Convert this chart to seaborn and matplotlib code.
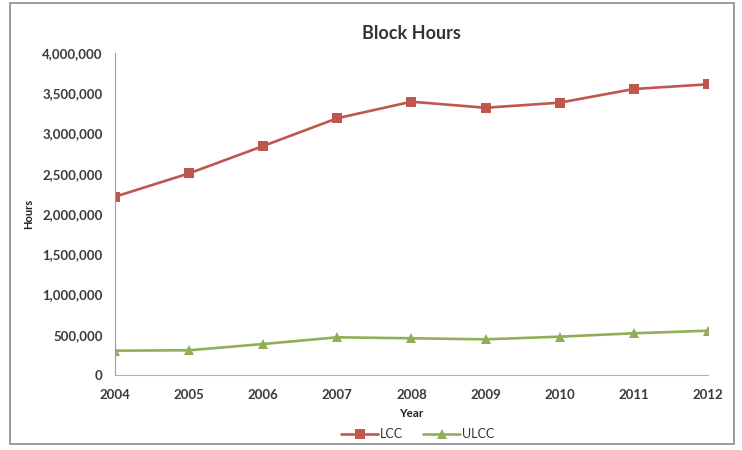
import pandas as pd
import matplotlib.pyplot as plt
import seaborn as sns
from matplotlib.patches import Rectangle
from matplotlib.ticker import FuncFormatter

years = [2004, 2005, 2006, 2007, 2008, 2009, 2010, 2011, 2012]
lcc = [2215000, 2505000, 2845000, 3190000, 3395000, 3320000, 3383000, 3553000, 3611000]
ulcc = [302000, 307000, 385000, 468000, 456000, 443000, 476000, 518000, 550000]

df = pd.DataFrame({'Year': years * 2,
                   'Hours': lcc + ulcc,
                   'Carrier': ['LCC'] * len(years) + ['ULCC'] * len(years)})

sns.set_style('white')
plt.rcParams['font.family'] = ['Lato', 'DejaVu Sans']

fig = plt.figure(figsize=(7.42, 4.5), dpi=100)
ax = fig.add_axes([0.155, 0.1667, 0.799, 0.7155])

sns.lineplot(data=df, x='Year', y='Hours', hue='Carrier', style='Carrier',
             palette={'LCC': '#C0574F', 'ULCC': '#8FAE55'},
             markers={'LCC': 's', 'ULCC': '^'}, dashes=False,
             markersize=7.5, linewidth=1.9, markeredgewidth=0, ax=ax)

ax.set_xlim(2004, 2012)
ax.set_ylim(0, 4000000)
ax.set_xticks(years)
ax.set_yticks(range(0, 4000001, 500000))
ax.yaxis.set_major_formatter(FuncFormatter(lambda v, p: f'{int(v):,}'))
ax.tick_params(length=0, labelsize=9.5, labelcolor='#3a3a3a')
ax.tick_params(axis='y', pad=9)
ax.tick_params(axis='x', pad=10)
for lbl in ax.get_xticklabels() + ax.get_yticklabels():
    lbl.set_fontweight('bold')

for side in ['top', 'right']:
    ax.spines[side].set_visible(False)
ax.spines['left'].set_color('#9a9aa8')
ax.spines['bottom'].set_color('#b0b0b8')

ax.set_title('Block Hours', fontsize=13, fontweight='bold', color='#333333', pad=10)
ax.set_xlabel('Year', fontsize=8.5, fontweight='bold', color='#222222', labelpad=5)
ax.set_ylabel('Hours', fontsize=8, fontweight='bold', color='#222222', labelpad=6)

leg = ax.legend(loc='upper center', bbox_to_anchor=(0.51, -0.15), ncol=2,
                frameon=False, fontsize=9, handlelength=3.0, handletextpad=0.1,
                columnspacing=1.6, borderaxespad=0)
for t in leg.get_texts():
    t.set_color('#333333')

fig.patches.append(Rectangle((10 / 742, 6 / 450), 724 / 742, 441 / 450,
                             transform=fig.transFigure, fill=False,
                             edgecolor='#8a8a96', linewidth=1.2))

fig.savefig('out.png', dpi=100)
